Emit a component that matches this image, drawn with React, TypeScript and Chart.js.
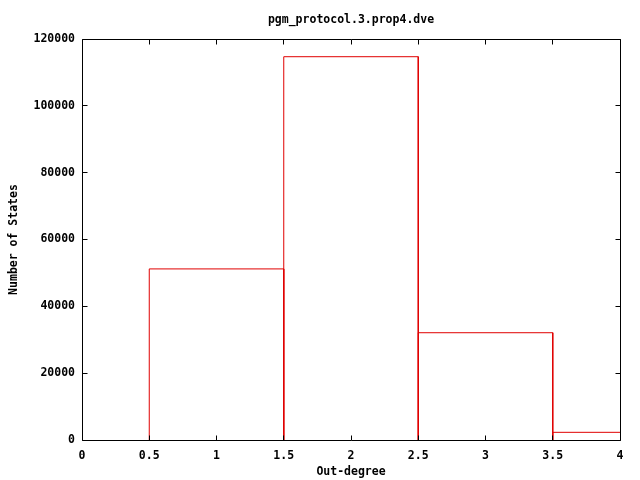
import React, { useEffect, useRef } from "react";
import { Chart, registerables } from "chart.js";

Chart.register(...registerables);

// ---- data ----
const binCentres = [1, 2, 3, 4];
const stateCounts = [51200, 114700, 32100, 2300];
const binWidth = 1;
const xMin = 0;
const xMax = 4;
const xStep = 0.5;
const yMin = 0;
const yMax = 120000;
const yStep = 20000;
const titleText = "pgm_protocol.3.prop4.dve";
const xLabel = "Out-degree";
const yLabel = "Number of States";

const FONT = "'DejaVu Sans Mono', monospace";
const FSIZE = 11.5;
const LINE_RED = "rgb(224,0,0)";

const frameTicksPlugin = {
  id: "frameTicks",
  afterDatasetsDraw(chart: any) {
    const { ctx, chartArea: a, scales } = chart;
    const xs = scales.x;
    const ys = scales.y;
    const L = Math.floor(a.left) + 0.5;
    const R = Math.floor(a.right) + 0.5;
    const T = Math.floor(a.top) + 0.5;
    const B = Math.floor(a.bottom) + 0.5;
    const len = 5;
    ctx.save();
    ctx.strokeStyle = "#000";
    ctx.lineWidth = 1;
    ctx.beginPath();
    ctx.rect(L, T, R - L, B - T);
    for (const t of xs.ticks) {
      const p = Math.floor(xs.getPixelForValue(t.value)) + 0.5;
      ctx.moveTo(p, B);
      ctx.lineTo(p, B - len);
      ctx.moveTo(p, T);
      ctx.lineTo(p, T + len);
    }
    for (const t of ys.ticks) {
      const p = Math.floor(ys.getPixelForValue(t.value)) + 0.5;
      ctx.moveTo(L, p);
      ctx.lineTo(L + len, p);
      ctx.moveTo(R, p);
      ctx.lineTo(R - len, p);
    }
    ctx.stroke();
    ctx.restore();
  },
};

export default function App() {
  const canvasRef = useRef<HTMLCanvasElement | null>(null);

  useEffect(() => {
    document.body.style.margin = "0";
    const canvas = canvasRef.current;
    if (!canvas) return;

    const datasets = binCentres.map((c, i) => {
      const lo = c - binWidth / 2;
      const hi = c + binWidth / 2;
      const v = stateCounts[i];
      return {
        label: `bin ${c}`,
        data: [
          { x: lo, y: 0 },
          { x: lo, y: v },
          { x: hi, y: v },
          { x: hi, y: 0 },
        ],
        showLine: true,
        borderColor: LINE_RED,
        borderWidth: 1,
        pointRadius: 0,
        pointHoverRadius: 0,
        fill: false,
        tension: 0,
      };
    });

    const font = { family: FONT, size: FSIZE, weight: "bold", lineHeight: 1 };

    const chart = new Chart(canvas, {
      type: "scatter",
      data: { datasets },
      options: {
        responsive: false,
        animation: false,
        events: [],
        layout: { padding: { top: 0, right: 20, bottom: 0, left: 0 } },
        plugins: {
          legend: { display: false },
          tooltip: { enabled: false },
          title: {
            display: true,
            text: titleText,
            fullSize: false,
            color: "#000",
            font: { family: FONT, size: FSIZE, weight: "bold", lineHeight: 1 },
            padding: { top: 14, bottom: 13.5 },
          },
        },
        scales: {
          x: {
            type: "linear",
            min: xMin,
            max: xMax,
            grid: { display: false, drawTicks: false },
            border: { display: false },
            ticks: {
              stepSize: xStep,
              color: "#000",
              padding: 10,
              maxRotation: 0,
              autoSkip: false,
              font,
              callback: (v: any) => String(Number(v)),
            },
            title: {
              display: true,
              text: xLabel,
              color: "#000",
              font,
              padding: { top: 0, bottom: 2 },
            },
            afterFit: (s: any) => {
              s.height = 40;
            },
          },
          y: {
            type: "linear",
            min: yMin,
            max: yMax,
            grid: { display: false, drawTicks: false },
            border: { display: false },
            ticks: {
              stepSize: yStep,
              color: "#000",
              padding: 7,
              autoSkip: false,
              font,
              callback: (v: any) => String(Number(v)),
            },
            title: {
              display: true,
              text: yLabel,
              color: "#000",
              font,
              padding: { top: 8.5, bottom: 0 },
            },
            afterFit: (s: any) => {
              s.width = 82;
            },
          },
        },
      },
      plugins: [frameTicksPlugin],
    });

    return () => chart.destroy();
  }, []);

  return (
    <div style={{ width: 640, height: 480, background: "#fff" }}>
      <canvas ref={canvasRef} width={640} height={480} />
    </div>
  );
}
